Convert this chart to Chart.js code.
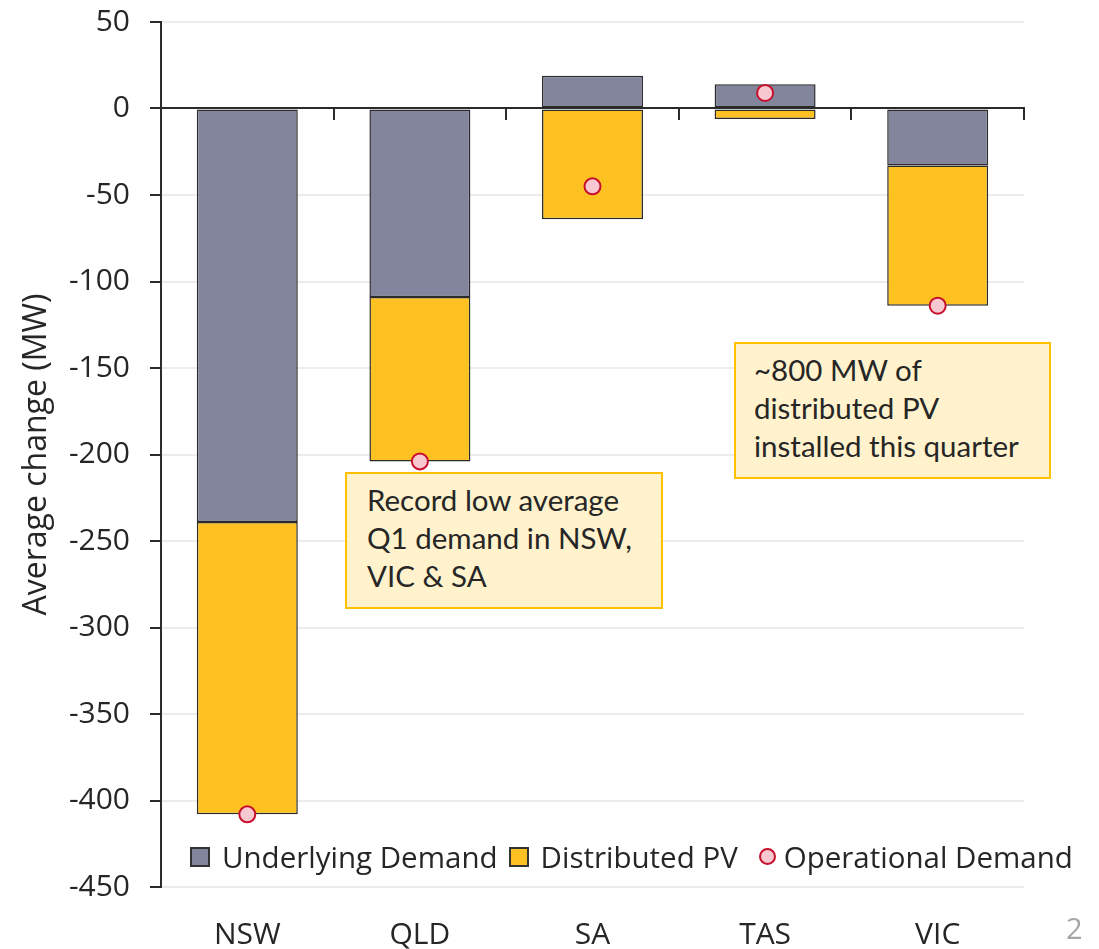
<!DOCTYPE html>
<html>
<head>
<meta charset="utf-8">
<script src="https://cdn.jsdelivr.net/npm/chart.js@4/dist/chart.umd.min.js"></script>
<style>
  body { margin: 0; background: #fff; }
  #wrap { position: relative; width: 1099px; height: 949px; }
  .note {
    position: absolute; background: #FFF2CC; border: 2px solid #FFC000;
    font-family: Lato, "Open Sans", sans-serif; font-size: 29.5px; line-height: 38px;
    color: #262626; box-sizing: border-box; padding: 7px 0 0 20px; white-space: nowrap;
  }
  #legend {
    position: absolute; left: 190px; top: 836px; display: flex; align-items: center;
    font-family: "Open Sans", sans-serif; font-size: 29.5px; color: #262626; white-space: nowrap;
  }
  #legend .item { display: flex; align-items: center; margin-right: 11px; }
  #legend .box { width: 16px; height: 16px; border: 2px solid #333; margin-right: 12px; }
  #legend .dot { width: 13px; height: 13px; border-radius: 50%; border: 2px solid #C8102E; margin: 0 8px 0 10px; }
  #pg { position: absolute; left: 1066px; top: 908px; font-family: "Open Sans", sans-serif; font-size: 29px; color: #a6a6a6; }
</style>
</head>
<body>
<div id="wrap">
  <canvas id="myChart" width="1099" height="949"></canvas>
  <div class="note" style="left:345px; top:472px; width:318px; height:137px;">Record low average<br>Q1 demand in NSW,<br>VIC &amp; SA</div>
  <div class="note" style="left:734px; top:342px; width:317px; height:137px; padding-left:18px;">~800 MW of<br>distributed PV<br>installed this quarter</div>
  <div id="legend"></div>
  <div id="pg">2</div>
</div>
<script>
var regions = ['NSW', 'QLD', 'SA', 'TAS', 'VIC'];
var underlying = [-239, -109, 19, 14, -33];
var distributedPV = [-169, -95, -64, -6, -81];
var operational = [-408, -204, -45, 9, -114];

var greyCol = '#82859B';
var pvCol = '#FDC122';
var dark = '#2b2b2b';

(function () {
    var ctx = document.getElementById('myChart');

    var myChart = new Chart(ctx, {
        type: 'bar',
        data: {
            labels: regions,
            datasets: [
                {
                    label: 'Underlying Demand',
                    data: underlying,
                    backgroundColor: greyCol,
                    borderColor: dark,
                    borderWidth: 1.5,
                    borderSkipped: false,
                    stack: 'demand',
                    order: 2
                },
                {
                    label: 'Distributed PV',
                    data: distributedPV,
                    backgroundColor: pvCol,
                    borderColor: dark,
                    borderWidth: 1.5,
                    borderSkipped: false,
                    stack: 'demand',
                    order: 2
                },
                {
                    type: 'line',
                    label: 'Operational Demand',
                    data: operational,
                    showLine: false,
                    pointRadius: 8,
                    pointBorderWidth: 2,
                    pointBackgroundColor: '#F8C8D0',
                    pointBorderColor: '#C8102E',
                    stack: 'dots',
                    order: 1
                }
            ]
        },
        options: {
            responsive: false,
            animation: false,
            layout: { padding: { left: 0, right: 75, top: 6, bottom: 0 } },
            datasets: {
                bar: { categoryPercentage: 1, barPercentage: 0.585 }
            },
            plugins: {
                legend: { display: false },
                tooltip: { enabled: false }
            },
            scales: {
                x: {
                    stacked: true,
                    border: { display: false },
                    grid: { display: false, drawTicks: false },
                    ticks: {
                        padding: 30,
                        color: '#262626',
                        font: { family: 'Open Sans', size: 30 }
                    },
                    afterFit: function (s) { s.height = 62; }
                },
                x2: {
                    type: 'category',
                    labels: regions,
                    position: { y: 0 },
                    offset: true,
                    border: { display: true, color: dark, width: 2 },
                    grid: { drawOnChartArea: false, drawTicks: true, tickLength: 11, color: dark, lineWidth: 2, offset: true },
                    ticks: { display: false },
                    afterFit: function (s) { s.height = 0; }
                },
                y: {
                    stacked: true,
                    min: -450,
                    max: 50,
                    ticks: {
                        stepSize: 50,
                        padding: 20,
                        color: '#262626',
                        font: { family: 'Open Sans', size: 30 }
                    },
                    border: { display: true, color: dark, width: 2 },
                    grid: {
                        color: function (c) { return c.tick && c.tick.value === 0 ? 'rgba(0,0,0,0)' : '#ececec'; },
                        lineWidth: 2,
                        tickColor: dark,
                        tickLength: 11
                    },
                    title: {
                        display: true,
                        text: 'Average change (MW)',
                        color: '#262626',
                        padding: { top: 18, bottom: 0 },
                        font: { family: 'Open Sans', size: 32 }
                    },
                    afterFit: function (s) {
                        s.width = 161;
                        s.paddingTop = 22;
                        s.paddingBottom = 0;
                    }
                }
            }
        }
    });

    // legend built from the datasets
    var html = '';
    myChart.data.datasets.forEach(function (ds) {
        if (ds.type === 'line') {
            html += '<span class="item"><span class="dot" style="background:' + ds.pointBackgroundColor + '"></span>' + ds.label + '</span>';
        } else {
            html += '<span class="item"><span class="box" style="background:' + ds.backgroundColor + '"></span>' + ds.label + '</span>';
        }
    });
    document.getElementById('legend').innerHTML = html;
}());
</script>
</body>
</html>
